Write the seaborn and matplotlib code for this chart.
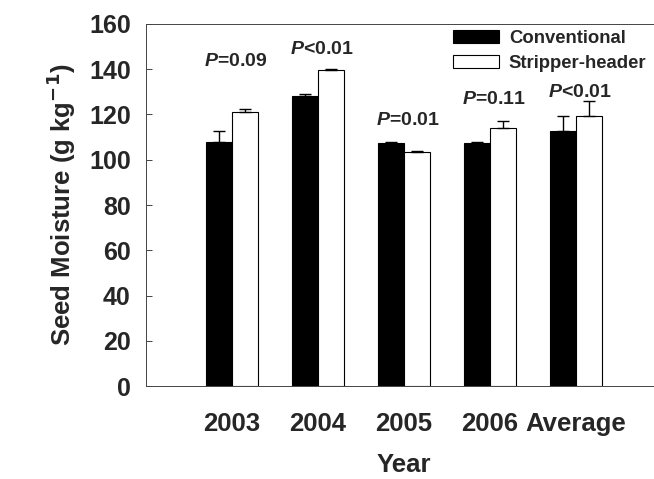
import pandas as pd
import matplotlib
matplotlib.use("Agg")
import matplotlib.pyplot as plt
import seaborn as sns

# data
years = ["2003", "2004", "2005", "2006", "Average"]
conventional = [107.8, 128.2, 107.4, 107.4, 112.7]
conventional_err = [4.9, 1.0, 0.4, 0.3, 6.6]
stripper = [121.1, 139.7, 103.4, 114.0, 119.3]
stripper_err = [1.2, 0.5, 0.4, 3.1, 6.7]
p_labels = ["=0.09", "<0.01", "=0.01", "=0.11", "<0.01"]
p_y = [143.5, 148.5, 117.5, 126.5, 129.5]

df = pd.DataFrame({
    "year": years * 2,
    "moisture": conventional + stripper,
    "system": ["Conventional"] * 5 + ["Stripper-header"] * 5,
})

sns.set_style("ticks")
plt.rcParams["font.family"] = ["Liberation Sans", "DejaVu Sans"]
plt.rcParams["font.weight"] = "bold"
plt.rcParams["mathtext.fontset"] = "custom"
plt.rcParams["mathtext.it"] = "Liberation Sans:italic:bold"
plt.rcParams["mathtext.rm"] = "Liberation Sans:bold"

fig = plt.figure(figsize=(6.54, 4.79), dpi=100)
ax = fig.add_axes([0.2232, 0.194, 0.789, 0.756])

sns.barplot(data=df, x="year", y="moisture", hue="system",
            palette=["black", "white"], edgecolor="black", linewidth=0.8,
            width=0.6, errorbar=None, ax=ax)

# upward error bars only
for cont, vals, errs in zip(ax.containers, [conventional, stripper],
                            [conventional_err, stripper_err]):
    xs = [b.get_x() + b.get_width() / 2 for b in cont]
    ax.errorbar(xs, vals, yerr=[[0] * len(errs), errs], fmt="none",
                ecolor="black", elinewidth=1, capsize=4, capthick=1)

for i, (lab, y) in enumerate(zip(p_labels, p_y)):
    ax.text(i + 0.05, y, r"$P$" + lab, ha="center", va="center",
            fontsize=14, fontweight="bold")

ax.set_xlim(-1, 5)
ax.set_ylim(0, 160)
ax.set_yticks(range(0, 161, 20))
ax.tick_params(axis="y", direction="in", length=4, width=0.6, labelsize=18, pad=11)
ax.tick_params(axis="x", length=0, labelsize=18.5, pad=19)
for lab in ax.get_xticklabels() + ax.get_yticklabels():
    lab.set_fontweight("bold")
for sp in ax.spines.values():
    sp.set_visible(True)
    sp.set_linewidth(0.7)
    sp.set_color("#444444")

ax.set_xlabel("Year", fontsize=18.5, fontweight="bold", labelpad=12)
ax.set_ylabel(r"Seed Moisture (g kg$^{\mathbf{-1}}$)", fontsize=18.5,
              fontweight="bold", labelpad=8)

ax.legend(loc="upper left", bbox_to_anchor=(0.562, 1.03), frameon=False,
          prop={"size": 13.3, "weight": "bold"}, handlelength=2.5,
          handleheight=0.7, labelspacing=0.45, handletextpad=0.55)

fig.savefig("out.png", dpi=100)
